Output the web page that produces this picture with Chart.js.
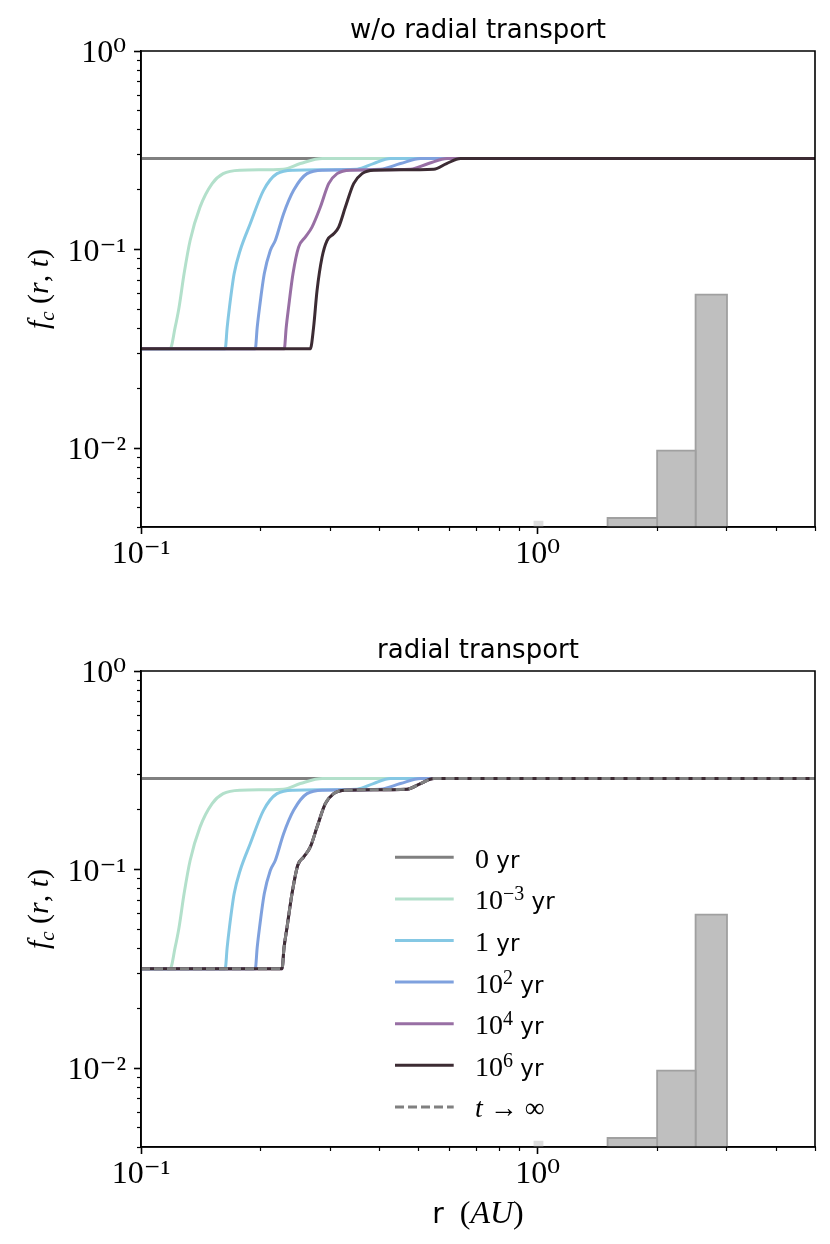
<!DOCTYPE html>
<html>
<head>
<meta charset="utf-8">
<script src="https://cdn.jsdelivr.net/npm/chart.js@4.4.1/dist/chart.umd.min.js"></script>
<style>
  html, body { margin:0; padding:0; background:#fff; }
  #wrap { position:relative; width:830px; height:1244px; overflow:hidden; background:#fff; }
  .panel { position:absolute; left:0; width:830px; }
  #p1 { top:0; height:620px; }
  #p2 { top:620px; height:624px; }
</style>
</head>
<body>
<div id="wrap">
  <div class="panel" id="p1"><canvas id="c1"></canvas></div>
  <div class="panel" id="p2"><canvas id="c2"></canvas></div>
</div>
<script>
// ================= DATA =================
const X_MIN = 0.1, X_MAX = 5, Y_MIN = 0.004, Y_MAX = 1;
const panelTitles = ['w/o radial transport', 'radial transport'];

const xMajorTicks = [0.1, 1];
const xMajorLabels = ['10\u207B\u00B9', '10\u2070'];
const xMinorTicks = [0.2, 0.3, 0.4, 0.5, 0.6, 0.7, 0.8, 0.9, 2, 3, 4, 5];
const yMajorTicks = [0.01, 0.1, 1];
const yMajorLabels = ['10\u207B\u00B2', '10\u207B\u00B9', '10\u2070'];
const yMinorTicks = [0.004, 0.005, 0.006, 0.007, 0.008, 0.009,
                     0.02, 0.03, 0.04, 0.05, 0.06, 0.07, 0.08, 0.09,
                     0.2, 0.3, 0.4, 0.5, 0.6, 0.7, 0.8, 0.9];

// series: r (AU) and f_c(r,t)
const r0yr = [0.1, 5];
const f0yr = [0.287, 0.287];
const rE3 = [0.1, 0.1184, 0.1219, 0.1247, 0.1284, 0.1330, 0.1409, 0.1511, 0.1611, 0.1778, 0.2284, 0.2521, 0.2865, 5];
const fE3 = [0.0316, 0.0316, 0.0405, 0.0511, 0.0754, 0.111, 0.164, 0.215, 0.241, 0.251, 0.254, 0.271, 0.287, 0.287];
const r1yr = [0.1, 0.1630, 0.1649, 0.1671, 0.1717, 0.1778, 0.1885, 0.2036, 0.2202, 0.2425, 0.3505, 0.3854, 0.4254, 5];
const f1yr = [0.0316, 0.0316, 0.0405, 0.0511, 0.0754, 0.0989, 0.1348, 0.1986, 0.2411, 0.251, 0.254, 0.271, 0.287, 0.287];
const rE2 = [0.1, 0.1941, 0.1963, 0.1990, 0.2045, 0.2118, 0.2180, 0.2288, 0.2425, 0.2621, 0.2887, 0.4013, 0.4509, 0.5065, 5];
const fE2 = [0.0316, 0.0316, 0.0405, 0.0511, 0.0754, 0.0989, 0.111, 0.1514, 0.1986, 0.2411, 0.251, 0.254, 0.271, 0.287, 0.287];
const rE4 = [0.1, 0.2297, 0.2323, 0.2355, 0.2416, 0.2496, 0.2595, 0.2698, 0.2832, 0.2972, 0.3121, 0.3371, 0.4779, 0.5305, 0.5916, 5];
const fE4 = [0.0316, 0.0316, 0.0405, 0.0511, 0.0754, 0.1028, 0.1154, 0.1297, 0.1636, 0.2146, 0.2411, 0.251, 0.254, 0.271, 0.287, 0.287];
const rE6 = [0.1, 0.2672, 0.2723, 0.2778, 0.2860, 0.2944, 0.3060, 0.3150, 0.3275, 0.3436, 0.3608, 0.3860, 0.5471, 0.5892, 0.6392, 5];
const fE6 = [0.0316, 0.0316, 0.0405, 0.0621, 0.0914, 0.111, 0.12, 0.1297, 0.1636, 0.2146, 0.2411, 0.251, 0.254, 0.271, 0.287, 0.287];
// with radial transport: 10^4 yr, 10^6 yr and t -> infinity coincide
const rSS = [0.1, 0.2267, 0.2294, 0.2334, 0.2402, 0.2484, 0.2569, 0.2672, 0.2778, 0.2915, 0.3060, 0.3275, 0.4688, 0.5065, 0.5471, 5];
const fSS = [0.0316, 0.0316, 0.0405, 0.0511, 0.0754, 0.105, 0.1154, 0.13, 0.1636, 0.2146, 0.2411, 0.251, 0.254, 0.271, 0.287, 0.287];

// histogram
const binEdges = [1.5, 2.0, 2.5, 3.0];
const binHeights = [0.00444, 0.0097, 0.0593];
const faintEdges = [0.975, 1.035];
const faintHeights = [0.0043];

// ================= STYLE =================
const SERIF = "'Liberation Serif', 'DejaVu Serif', serif";
const SANS = "'DejaVu Sans', 'Liberation Sans', sans-serif";
const C_GRAY = '#808080', C_GREEN = '#b3e0cb', C_LBLUE = '#85c8e4',
      C_BLUE = '#7fa1de', C_PURPLE = '#986fa4', C_DARK = '#3c2b33';
const LW = 3.0;

Chart.defaults.color = '#000';
Chart.defaults.font.family = SANS;

const richFont = {
  m: '30px ' + SERIF,
  mi: 'italic 30px ' + SERIF,
  sup: '21px ' + SERIF,
  subi: 'italic 21px ' + SERIF,
  xm: '32px ' + SERIF,
  xmi: 'italic 32px ' + SERIF,
  lm: '28px ' + SERIF,
  lmi: 'italic 28px ' + SERIF,
  lsup: '20px ' + SERIF,
  s: '23px ' + SANS,
  sx: '28px ' + SANS,
  title: '26px ' + SANS
};
const richDy = { sup: -10, subi: 6, lsup: -9 };

function richWidth(ctx, parts) {
  let w = 0;
  parts.forEach(p => { ctx.font = richFont[p[1]]; w += ctx.measureText(p[0]).width; });
  return w;
}
function drawRich(ctx, parts, x, y) {
  let cx = x;
  parts.forEach(p => {
    ctx.font = richFont[p[1]];
    ctx.fillText(p[0], cx, y + (richDy[p[1]] || 0));
    cx += ctx.measureText(p[0]).width;
  });
}

const yTitleParts = [['f','mi'],['c','subi'],[' (','m'],['r','mi'],[', ','m'],['t','mi'],[')','m']];
const xTitleParts = [['r','sx'],['  (','xm'],['AU','xmi'],[')','xm']];
const legendParts = [
  [['0','lm'],[' yr','s']],
  [['10','lm'],['\u22123','lsup'],[' yr','s']],
  [['1','lm'],[' yr','s']],
  [['10','lm'],['2','lsup'],[' yr','s']],
  [['10','lm'],['4','lsup'],[' yr','s']],
  [['10','lm'],['6','lsup'],[' yr','s']],
  [['t','lmi'],[' \u2192 \u221E','lm']]
];

function pts(rs, fs) { return rs.map((r, i) => ({ x: r, y: fs[i] })); }

function lineDs(label, rs, fs, color, order, dash) {
  return {
    type: 'line', label, data: pts(rs, fs),
    borderColor: color, borderWidth: LW, borderDash: dash || [],
    borderJoinStyle: 'round', pointRadius: 0, fill: false,
    cubicInterpolationMode: 'monotone', order
  };
}

function histDatasets() {
  const out = [];
  binHeights.forEach((h, i) => {
    const a = binEdges[i], b = binEdges[i + 1];
    out.push({ type: 'line', label: 'hist' + i,
      data: [{x:a,y:Y_MIN},{x:a,y:h},{x:b,y:h},{x:b,y:Y_MIN}],
      borderColor: '#a0a0a0', borderWidth: 1.8, backgroundColor: '#bfbfbf',
      fill: 'start', pointRadius: 0, tension: 0, order: 100 });
  });
  faintHeights.forEach((h, i) => {
    const a = faintEdges[i], b = faintEdges[i + 1];
    out.push({ type: 'line', label: 'faint' + i,
      data: [{x:a,y:Y_MIN},{x:a,y:h},{x:b,y:h},{x:b,y:Y_MIN}],
      borderColor: 'rgba(0,0,0,0)', borderWidth: 0, backgroundColor: '#dedede',
      fill: 'start', pointRadius: 0, tension: 0, order: 101 });
  });
  return out;
}

// plugins
const frame = {
  id: 'frame',
  afterDatasetsDraw(chart) {
    const { ctx, chartArea: a } = chart;
    ctx.save();
    ctx.strokeStyle = '#000'; ctx.lineWidth = 1.6;
    ctx.beginPath();
    ctx.moveTo(a.left, a.top); ctx.lineTo(a.right, a.top); ctx.lineTo(a.right, a.bottom);
    ctx.moveTo(a.left, a.top); ctx.lineTo(a.left, a.bottom); ctx.lineTo(a.right, a.bottom);
    ctx.stroke();
    ctx.restore();
  }
};

const axisTitles = {
  id: 'axisTitles',
  afterDraw(chart, args, opts) {
    const { ctx, chartArea: a } = chart;
    // panel title, centred over the plotting area
    ctx.save();
    ctx.fillStyle = '#000';
    ctx.textBaseline = 'alphabetic';
    ctx.textAlign = 'center';
    ctx.font = richFont.title;
    ctx.fillText(opts.title, (a.left + a.right) / 2, a.top - 13);
    ctx.restore();
    // y axis title
    ctx.save();
    ctx.fillStyle = '#000';
    ctx.textBaseline = 'alphabetic';
    ctx.translate(38, (a.top + a.bottom) / 2);
    ctx.rotate(-Math.PI / 2);
    const w = richWidth(ctx, yTitleParts);
    drawRich(ctx, yTitleParts, -w / 2, 10);
    ctx.restore();
    if (opts.xTitle) {
      ctx.save();
      ctx.fillStyle = '#000';
      ctx.textBaseline = 'alphabetic';
      const wx = richWidth(ctx, xTitleParts);
      drawRich(ctx, xTitleParts, (a.left + a.right) / 2 - wx / 2, a.bottom + 76);
      ctx.restore();
    }
  }
};

const innerLegend = {
  id: 'innerLegend',
  afterDraw(chart, args, opts) {
    if (!opts.show) return;
    const { ctx, chartArea: a } = chart;
    const lines = chart.data.datasets.filter(d => d.legendIndex !== undefined)
      .sort((p, q) => p.legendIndex - q.legendIndex);
    ctx.save();
    lines.forEach((d, i) => {
      const y = a.top + 186.3 + i * 41.6;
      ctx.strokeStyle = d.borderColor; ctx.lineWidth = d.borderWidth;
      ctx.setLineDash(d.borderDash || []);
      ctx.beginPath(); ctx.moveTo(a.left + 254, y); ctx.lineTo(a.left + 312.7, y); ctx.stroke();
      ctx.setLineDash([]);
      ctx.fillStyle = '#000'; ctx.textBaseline = 'alphabetic';
      drawRich(ctx, legendParts[d.legendIndex], a.left + 334, y + 10.5);
    });
    ctx.restore();
  }
};

function scaleSet(xAxisH) {
  const base = { type: 'logarithmic', min: X_MIN, max: X_MAX };
  const ybase = { type: 'logarithmic', min: Y_MIN, max: Y_MAX };
  return {
    x: Object.assign({}, base, {
      position: 'bottom', weight: 1,
      afterBuildTicks: s => { s.ticks = xMajorTicks.map(v => ({ value: v })); },
      ticks: { callback: (v, i) => xMajorLabels[i], font: { family: SERIF, size: 32 },
               color: '#000', padding: 1, maxRotation: 0, autoSkip: false },
      grid: { drawOnChartArea: false, drawTicks: true, tickLength: 7, tickWidth: 1.6, tickColor: '#000' },
      border: { display: true, color: '#000', width: 1.6 },
      afterFit: s => { s.height = xAxisH; }
    }),
    xMinor: Object.assign({}, base, {
      position: 'bottom', weight: 0,
      afterBuildTicks: s => { s.ticks = xMinorTicks.map(v => ({ value: v })); },
      ticks: { display: false, autoSkip: false },
      grid: { drawOnChartArea: false, drawTicks: true, tickLength: 4, tickWidth: 1.2, tickColor: '#000' },
      border: { display: false },
      afterFit: s => { s.height = 0; }
    }),
    y: Object.assign({}, ybase, {
      position: 'left', weight: 1,
      afterBuildTicks: s => { s.ticks = yMajorTicks.map(v => ({ value: v })); },
      ticks: { callback: (v, i) => yMajorLabels[i], font: { family: SERIF, size: 32 },
               color: '#000', padding: 8, labelOffset: 3, autoSkip: false },
      grid: { drawOnChartArea: false, drawTicks: true, tickLength: 7, tickWidth: 1.6, tickColor: '#000' },
      border: { display: true, color: '#000', width: 1.6 },
      afterFit: s => { s.width = 141; }
    }),
    yMinor: Object.assign({}, ybase, {
      position: 'left', weight: 0,
      afterBuildTicks: s => { s.ticks = yMinorTicks.map(v => ({ value: v })); },
      ticks: { display: false, autoSkip: false },
      grid: { drawOnChartArea: false, drawTicks: true, tickLength: 4, tickWidth: 1.2, tickColor: '#000' },
      border: { display: false },
      afterFit: s => { s.width = 0; }
    })
  };
}

function makePanel(id, title, datasets, xAxisH, showLegend, showXTitle) {
  return new Chart(document.getElementById(id), {
    type: 'line',
    data: { datasets },
    options: {
      responsive: true, maintainAspectRatio: false, animation: false,
      layout: { padding: { left: 0, right: 15, top: 51, bottom: 0 } },
      scales: scaleSet(xAxisH),
      plugins: {
        legend: { display: false },
        tooltip: { enabled: false },
        title: { display: false },
        innerLegend: { show: showLegend },
        axisTitles: { xTitle: showXTitle, title }
      }
    },
    plugins: [frame, axisTitles, innerLegend]
  });
}

// top panel
const topSets = [
  lineDs('0 yr', r0yr, f0yr, C_GRAY, 10),
  lineDs('1e-3 yr', rE3, fE3, C_GREEN, 9),
  lineDs('1 yr', r1yr, f1yr, C_LBLUE, 8),
  lineDs('1e2 yr', rE2, fE2, C_BLUE, 7),
  lineDs('1e4 yr', rE4, fE4, C_PURPLE, 6),
  lineDs('1e6 yr', rE6, fE6, C_DARK, 5)
].concat(histDatasets());
makePanel('c1', panelTitles[0], topSets, 93, false, false);

// bottom panel
const botLines = [
  lineDs('0 yr', r0yr, f0yr, C_GRAY, 10),
  lineDs('1e-3 yr', rE3, fE3, C_GREEN, 9),
  lineDs('1 yr', r1yr, f1yr, C_LBLUE, 8),
  lineDs('1e2 yr', rE2, fE2, C_BLUE, 7),
  lineDs('1e4 yr', rSS, fSS, C_PURPLE, 6),
  lineDs('1e6 yr', rSS, fSS, C_DARK, 5),
  lineDs('t -> inf', rSS, fSS, C_GRAY, 4, [9, 4])
];
botLines.forEach((d, i) => { d.legendIndex = i; });
makePanel('c2', panelTitles[1], botLines.concat(histDatasets()), 97, true, true);
</script>
</body>
</html>
